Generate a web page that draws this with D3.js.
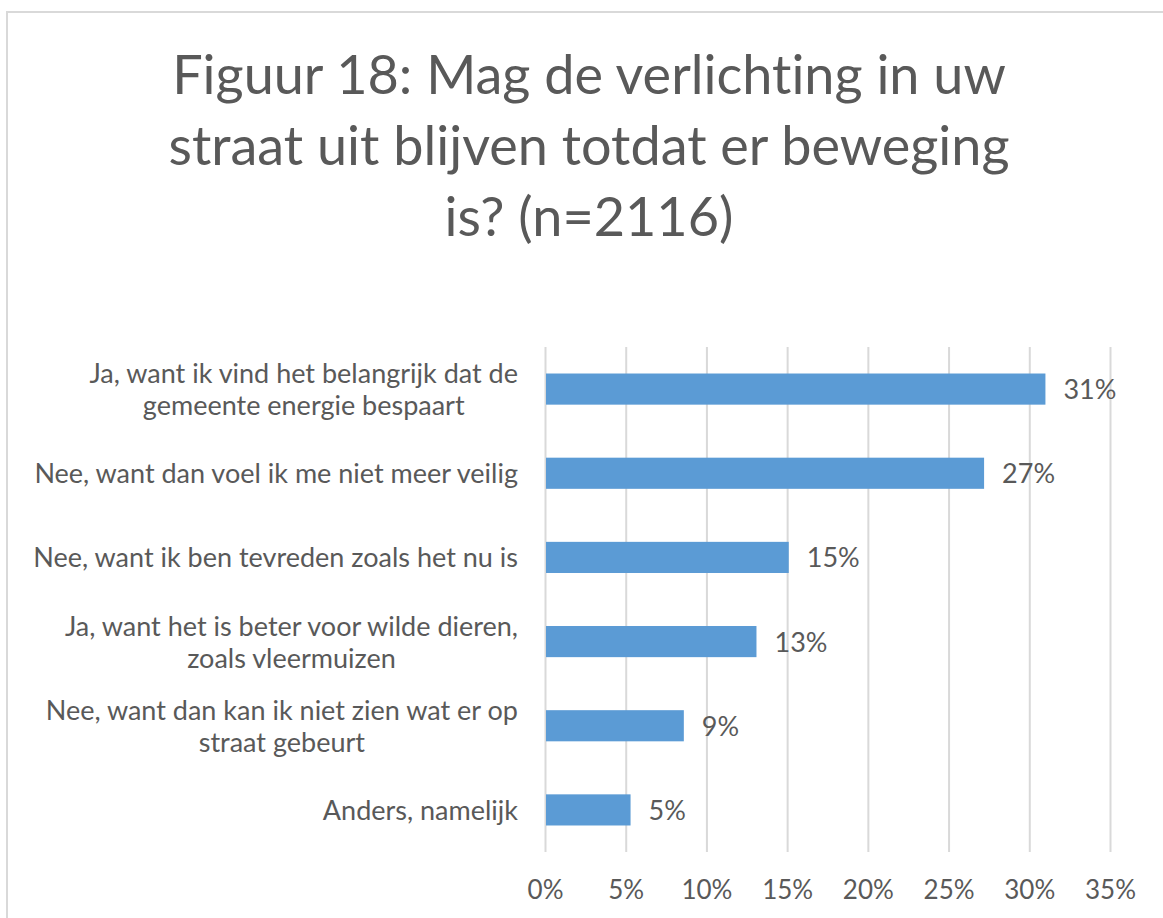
<!DOCTYPE html>
<html>
<head>
<meta charset="utf-8">
<script src="https://cdn.jsdelivr.net/npm/d3@7"></script>
<style>
body { margin: 0; background: #fff; }
text { font-family: Lato, "Open Sans", sans-serif; fill: #595959; font-variant-ligatures: none; }
</style>
</head>
<body>
<div class="chart-container"></div>
<script>
// survey answers, top to bottom, with the line breaks as they show in the picture
var categories = [
  ["Ja, want ik vind het belangrijk dat de", "gemeente energie bespaart"],
  ["Nee, want dan voel ik me niet meer veilig"],
  ["Nee, want ik ben tevreden zoals het nu is"],
  ["Ja, want het is beter voor wilde dieren,", "zoals vleermuizen"],
  ["Nee, want dan kan ik niet zien wat er op", "straat gebeurt"],
  ["Anders, namelijk"]
]
var values = [31.0, 27.2, 15.1, 13.1, 8.6, 5.3]
var valueLabels = ["31%", "27%", "15%", "13%", "9%", "5%"]
var ticks = [0, 5, 10, 15, 20, 25, 30, 35]
var titleLines = ["Figuur 18: Mag de verlichting in uw", "straat uit blijven totdat er beweging", "is? (n=2116)"]

var W = 1163, H = 918

var margins = {
  top: 347,
  bottom: 66,
  left: 545,
  right: 53
}

var width = W - margins.left - margins.right
var height = H - margins.top - margins.bottom

var svg = d3.select(".chart-container")
  .append("svg")
  .attr("width", W)
  .attr("height", H)

//chart frame, only top and left edges show
svg.append("path")
  .attr("d", "M7,918 V12 H1163")
  .attr("fill", "none")
  .attr("stroke", "#d9d9d9")
  .attr("stroke-width", 2)

//title
svg.append("g")
  .selectAll("text")
  .data(titleLines)
  .enter()
  .append("text")
  .attr("x", 589)
  .attr("y", function(d, i){ return 94 + i * 71 })
  .attr("text-anchor", "middle")
  .style("font-size", "54px")
  .text(function(d){ return d })

var xScale = d3.scaleLinear().domain([0, 35]).range([0, width])
var yScale = d3.scaleBand()
  .domain(d3.range(categories.length))
  .range([0, height])
  .paddingInner(0.63)
  .paddingOuter(0.315)

var g = svg.append("g")
  .attr("transform", "translate(" + margins.left + "," + margins.top + ")")

//gridlines + tick labels
var xAxis = d3.axisBottom(xScale)
  .tickValues(ticks)
  .tickSize(height)
  .tickFormat(function(d){ return d + "%" })

var ax = g.append("g").call(xAxis)
ax.select(".domain").remove()
ax.selectAll("line").attr("stroke", "#d9d9d9").attr("stroke-width", 2)
ax.selectAll("text")
  .attr("dy", 0)
  .attr("y", height + 47)
  .style("font-size", "26px")
  .style("fill", "#595959")
  .attr("font-family", null)

//bars
g.selectAll("rect.bar")
  .data(values)
  .enter()
  .append("rect")
  .attr("class", "bar")
  .attr("x", xScale(0) + 1)
  .attr("y", function(d, i){ return yScale(i) })
  .attr("width", function(d){ return xScale(d) - xScale(0) - 1 })
  .attr("height", yScale.bandwidth())
  .attr("fill", "#5b9bd5")

//value labels
g.selectAll("text.val")
  .data(values)
  .enter()
  .append("text")
  .attr("class", "val")
  .attr("x", function(d){ return xScale(d) + 18 })
  .attr("y", function(d, i){ return yScale(i) + yScale.bandwidth() / 2 + 10 })
  .style("font-size", "27px")
  .text(function(d, i){ return valueLabels[i] })

//category labels
var cat = g.selectAll("text.cat")
  .data(categories)
  .enter()
  .append("text")
  .attr("class", "cat")
  .attr("text-anchor", "middle")
  .style("font-size", "27px")

cat.each(function(lines, i){
  var t = d3.select(this)
  var mid = yScale(i) + yScale.bandwidth() / 2
  var first = mid + 10 - (lines.length - 1) * 16
  // widest line is right aligned at the gap, others centred on it
  var tmp = t.append("tspan").text(lines[0])
  var w = d3.max(lines, function(l){ tmp.text(l); return tmp.node().getComputedTextLength() })
  tmp.remove()
  var cx = -27 - w / 2
  lines.forEach(function(l, k){
    t.append("tspan")
      .attr("x", cx)
      .attr("y", first + k * 32)
      .text(l)
  })
})
</script>
</body>
</html>
